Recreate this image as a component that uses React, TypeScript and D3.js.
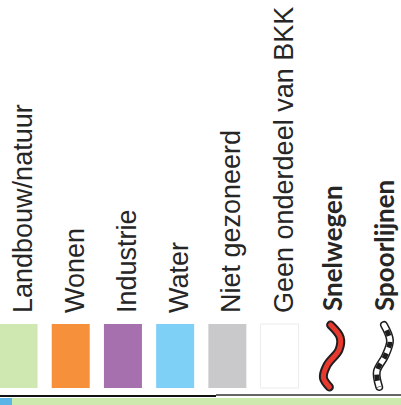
import React from "react";
import * as d3 from "d3";

const labels = [
  "Landbouw/natuur",
  "Wonen",
  "Industrie",
  "Water",
  "Niet gezoneerd",
  "Geen onderdeel van BKK",
  "Snelwegen",
  "Spoorlijnen",
];
const kinds = ["fill", "fill", "fill", "fill", "fill", "fill", "road", "rail"];
const swatchColors = ["#cfe8b2", "#f7903a", "#a66fae", "#7fd0f6", "#c9c9cb", "#ffffff", "#e8392f", "#ffffff"];
// normalized S-curve for line symbols (u across, v down)
const roadShape: [number, number][] = [
  [0.45, 0.0], [0.85, 0.2], [0.8, 0.4], [0.3, 0.65], [0.15, 0.85], [0.4, 1.0],
];
const railShape: [number, number][] = [
  [0.5, 0.0], [0.75, 0.25], [0.55, 0.5], [0.2, 0.75], [0.3, 1.0],
];

const W = 401;
const H = 405;

export default function App() {
  const x = d3.scaleLinear().domain([0, 7]).range([18.5, 384]);
  const swW = 38;
  const swTop = 324;
  const swBot = 388;

  const symbol = (i: number, shape: [number, number][], halfW: number) => {
    const cx = x(i);
    const sx = d3.scaleLinear().domain([0, 1]).range([cx - halfW, cx + halfW]);
    const sy = d3.scaleLinear().domain([0, 1]).range([swTop + 1, swBot - 1]);
    return d3
      .line<[number, number]>()
      .x((d) => sx(d[0]))
      .y((d) => sy(d[1]))
      .curve(d3.curveCatmullRom)(shape) as string;
  };

  return (
    <svg
      width={W}
      height={H}
      style={{ position: "absolute", left: 0, top: 0, background: "#fff" }}
    >
      {labels.map((lab, i) => {
        const cx = x(i);
        const isLine = kinds[i] !== "fill";
        const bx = cx + (isLine ? 10 : 13);
        const ty = isLine ? 311 : 313;
        return (
          <g key={lab}>
            <text
              transform={`translate(${bx},${ty}) rotate(-90)`}
              fontFamily={isLine ? "Lato, 'Noto Sans', sans-serif" : "'Liberation Sans', Arial, sans-serif"}
              fontWeight={isLine ? 700 : 400}
              fontSize={isLine ? 26 : 27}
              fill="#262626"
            >
              {lab}
            </text>
            {kinds[i] === "fill" && (
              <rect
                x={cx - swW / 2}
                y={swTop}
                width={swW}
                height={swBot - swTop}
                fill={swatchColors[i]}
                stroke={swatchColors[i] === "#ffffff" ? "#ececec" : "none"}
                strokeWidth={1}
              />
            )}
            {kinds[i] === "road" && (
              <g fill="none" strokeLinecap="round">
                <path d={symbol(i, roadShape, 12)} stroke="#1e1e1e" strokeWidth={9} />
                <path d={symbol(i, roadShape, 12)} stroke={swatchColors[i]} strokeWidth={5} />
              </g>
            )}
            {kinds[i] === "rail" && (
              <g fill="none" strokeLinecap="round">
                <path d={symbol(i, railShape, 12)} stroke="#1e1e1e" strokeWidth={8} />
                <path d={symbol(i, railShape, 12)} stroke={swatchColors[i]} strokeWidth={5} />
                <path
                  d={symbol(i, railShape, 12)}
                  stroke="#1e1e1e"
                  strokeWidth={5}
                  strokeLinecap="butt"
                  strokeDasharray="6 6"
                  strokeDashoffset={-6}
                />
              </g>
            )}
          </g>
        );
      })}
      <line x1={0} x2={216} y1={396} y2={396} stroke="#111" strokeWidth={2} />
      <line x1={216} x2={W} y1={395} y2={395} stroke="#333" strokeWidth={1.5} />
      <rect x={0} y={398} width={W} height={H - 398} fill="#cde9ad" />
      <rect x={0} y={398} width={12} height={H - 398} fill="#5ab4e5" />
    </svg>
  );
}
